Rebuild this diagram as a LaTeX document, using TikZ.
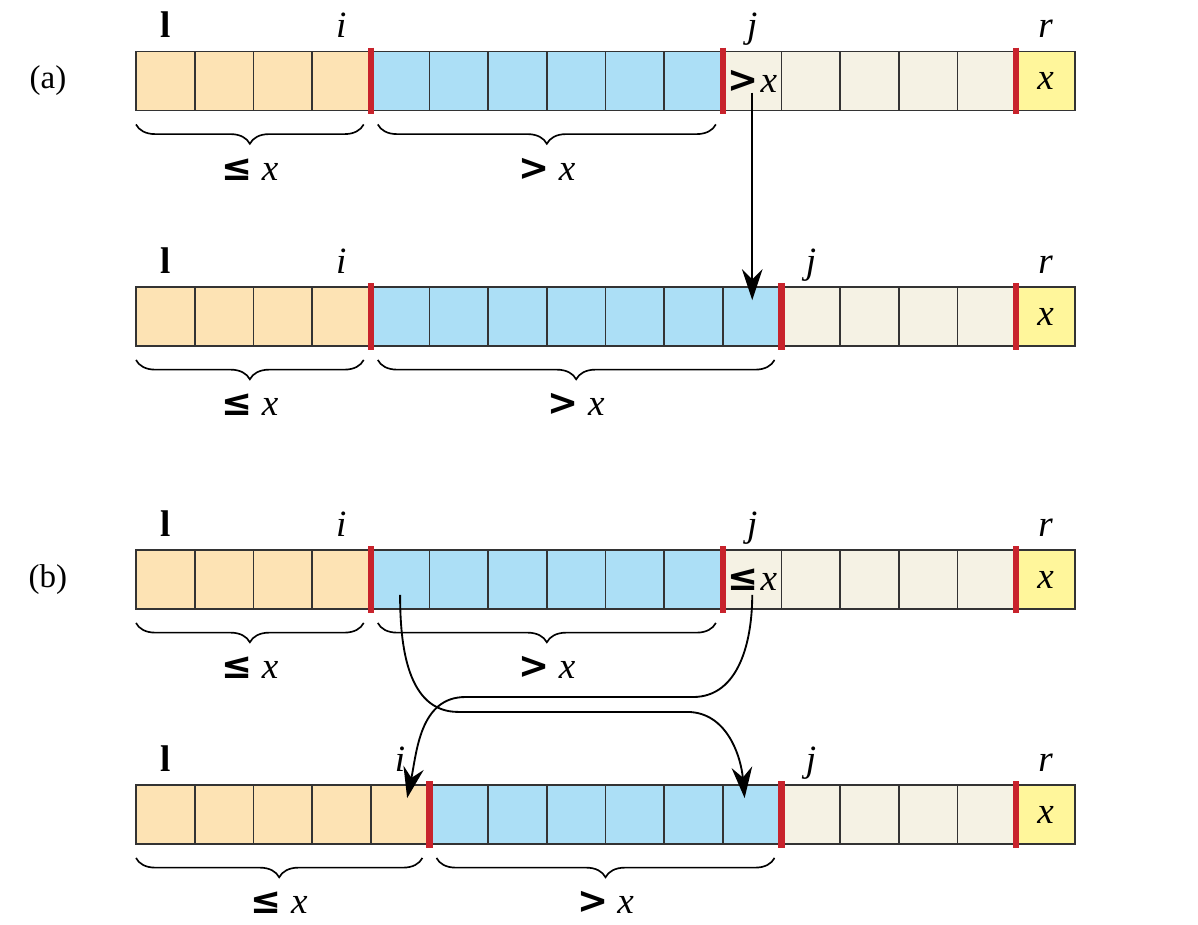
\documentclass[tikz,border=0pt]{standalone}
\usepackage{fontspec}
\setmainfont{Liberation Serif}
\newfontfamily\relfont{DejaVu Sans}
\usepackage{tikz}
\usetikzlibrary{arrows.meta,positioning,calc,decorations.pathreplacing}

\definecolor{lowcol}{RGB}{253,227,180}
\definecolor{highcol}{RGB}{172,223,246}
\definecolor{restcol}{RGB}{245,242,228}
\definecolor{pivcol}{RGB}{255,246,155}
\definecolor{barcol}{RGB}{200,35,44}

\newcommand{\rle}{{\relfont\bfseries ≤}}
\newcommand{\rgt}{{\relfont\bfseries >}}

\begin{document}
\begin{tikzpicture}[
  font=\fontsize{18}{21}\selectfont,
  % Cell styles
  cell/.style={rectangle, draw=black!80, line width=0.8pt, minimum size=1cm, inner sep=0pt, outer sep=0pt},
  low/.style={cell, fill=lowcol},
  high/.style={cell, fill=highcol},
  rest/.style={cell, fill=restcol},
  piv/.style={cell, fill=pivcol},
  bar/.style={draw=barcol, line width=3pt},
  brc/.style={decorate, decoration={brace, mirror, amplitude=0.33cm}, line width=0.8pt},
  idx/.style={anchor=base, inner sep=0pt},
  part/.style={font=\fontsize{16}{19}\selectfont},
  arr/.style={-{Stealth[length=15pt, width=10pt, inset=5pt]}, line width=0.9pt}
]
  \useasboundingbox (-2.317,0) rectangle (18.095,-15.744);

  % Rows: name / y of centre / last low cell / last high cell
  \foreach \row/\y/\nl/\nh in {A/-1.380/4/10, B/-5.393/4/11, C/-9.874/4/10, D/-13.878/5/11}{
    \foreach \k in {1,...,16}{
      \ifnum\k>\nh \def\sty{rest}\else\ifnum\k>\nl \def\sty{high}\else\def\sty{low}\fi\fi
      \ifnum\k=16 \def\sty{piv}\fi
      \node[\sty] (\row-\k) at (\k-0.5,\y) {};
    }
    % Boundaries
    \draw[bar] ([yshift=2pt]\row-\nl.north east) -- ([yshift=-2pt]\row-\nl.south east);
    \draw[bar] ([yshift=2pt]\row-\nh.north east) -- ([yshift=-2pt]\row-\nh.south east);
    \draw[bar] ([yshift=2pt]\row-15.north east) -- ([yshift=-2pt]\row-15.south east);
    % Indices
    \pgfmathtruncatemacro\nj{\nh+1}
    \node[idx] (\row-l) at ([yshift=0.24cm]\row-1.north) {\textbf{l}};
    \node[idx] (\row-i) at ([yshift=0.24cm]\row-\nl.north) {\textit{i}};
    \node[idx] (\row-j) at ([yshift=0.24cm]\row-\nj.north) {\textit{j}};
    \node[idx] (\row-r) at ([yshift=0.24cm]\row-16.north) {\textit{r}};
    \node (\row-px) at (\row-16) {\textit{x}};
    % Braces
    \draw[brc] ([yshift=-0.24cm]\row-1.south west) -- ([xshift=-0.12cm,yshift=-0.24cm]\row-\nl.south east)
      node[midway, anchor=base, yshift=-0.95cm] (\row-le) {\rle\ \textit{x}};
    \draw[brc] ([xshift=0.12cm,yshift=-0.24cm]\row-\nl.south east) -- ([xshift=-0.12cm,yshift=-0.24cm]\row-\nh.south east)
      node[midway, anchor=base, yshift=-0.95cm] (\row-gt) {\rgt\ \textit{x}};
  }

  % Part labels
  \node[part] (lab-a) at (-1.5,-1.38) {(a)};
  \node[part] (lab-b) at (-1.5,-9.874) {(b)};

  % Element under j
  \node (A-cmp) at (A-11) {\rgt\kern1pt\textit{x}};
  \node (C-cmp) at (C-11) {\rle\kern1pt\textit{x}};

  % (a) j moves on
  \draw[arr] ([yshift=-0.2cm]A-11.center) -- ([yshift=-0.22cm]B-11.north);

  % (b) swap
  \coordinate (swA) at (5.49,-12.13);
  \coordinate (swB) at (9.39,-12.13);
  \coordinate (swC) at (9.49,-11.876);
  \coordinate (swD) at (5.61,-11.876);
  \draw[arr] ([yshift=-0.26cm]C-5.center) to[out=-90,in=180] (swA) -- (swB)
    to[out=0,in=95] ([xshift=-0.13cm,yshift=-0.22cm]D-11.north);
  \draw[arr] ([yshift=-0.26cm]C-11.center) to[out=-90,in=0] (swC) -- (swD)
    to[out=180,in=78] ([xshift=0.12cm,yshift=-0.22cm]D-5.north);

\end{tikzpicture}
\end{document}
